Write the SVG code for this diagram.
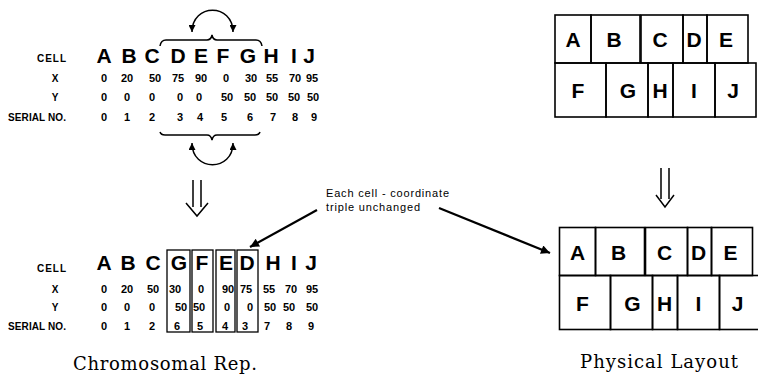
<svg xmlns="http://www.w3.org/2000/svg" width="758" height="378" viewBox="0 0 758 378">
<style>
.lbl{font-family:"Liberation Sans",Arial,sans-serif;font-weight:bold;font-size:10px;fill:#000}
.big{font-family:"Liberation Sans",Arial,sans-serif;font-weight:bold;font-size:21px;fill:#000;text-anchor:middle}
.num{font-family:"Liberation Sans",Arial,sans-serif;font-weight:bold;font-size:11px;fill:#000;text-anchor:middle}
.cap{font-family:"DejaVu Serif","Liberation Serif",serif;font-size:18px;fill:#000}
.note{font-family:"Liberation Sans",Arial,sans-serif;font-size:11px;fill:#000}
.cell{fill:none;stroke:#000;stroke-width:1.6}
.box{fill:none;stroke:#000;stroke-width:1.3}
.ln{fill:none;stroke:#000;stroke-width:1.5}
.arr{fill:none;stroke:#000;stroke-width:2.2}
.cl{font-family:"Liberation Sans",Arial,sans-serif;font-weight:bold;font-size:21px;fill:#000;text-anchor:middle}
</style>
<defs>
<marker id="ah" viewBox="0 0 10 10" refX="10" refY="5" markerWidth="7" markerHeight="7" markerUnits="userSpaceOnUse" orient="auto-start-reverse">
<path d="M0,0 L10,5 L0,10 z" fill="#000"/>
</marker>
<marker id="ah2" viewBox="0 0 10 10" refX="10" refY="5" markerWidth="11" markerHeight="9" markerUnits="userSpaceOnUse" orient="auto">
<path d="M0,0 L10,5 L0,10 z" fill="#000"/>
</marker>
</defs>

<g id="top-table">
<text class="lbl" x="37" y="62" textLength="29">CELL</text>
<text class="lbl" x="55" y="82" text-anchor="middle">X</text>
<text class="lbl" x="55" y="101" text-anchor="middle">Y</text>
<text class="lbl" x="8" y="121" textLength="58">SERIAL NO.</text>
<g class="big">
<text x="104" y="63">A</text><text x="129" y="63">B</text><text x="152" y="63">C</text><text x="178" y="63">D</text><text x="201" y="63">E</text><text x="223" y="63">F</text><text x="248" y="63">G</text><text x="271" y="63">H</text><text x="294" y="63">I</text><text x="309" y="63">J</text>
</g>
<g class="num">
<text x="104" y="82">0</text><text x="127" y="82">20</text><text x="155" y="82">50</text><text x="178" y="82">75</text><text x="201" y="82">90</text><text x="226" y="82">0</text><text x="251" y="82">30</text><text x="272" y="82">55</text><text x="295" y="82">70</text><text x="312" y="82">95</text>
<text x="104" y="101">0</text><text x="127" y="101">0</text><text x="152" y="101">0</text><text x="180" y="101">0</text><text x="199" y="101">0</text><text x="227" y="101">50</text><text x="250" y="101">50</text><text x="272" y="101">50</text><text x="294" y="101">50</text><text x="313" y="101">50</text>
<text x="104" y="121">0</text><text x="127" y="121">1</text><text x="152" y="121">2</text><text x="180" y="121">3</text><text x="200" y="121">4</text><text x="224" y="121">5</text><text x="250" y="121">6</text><text x="273" y="121">7</text><text x="295" y="121">8</text><text x="314" y="121">9</text>
</g>
<path class="ln" d="M160,46 Q161,40 166,40 H207 Q211,40 212,35 Q213,40 217,40 H256 Q261,40 262,46"/>
<path class="ln" d="M160,132 Q161,135 165,135 H207 Q211,135 212,140 Q213,135 217,135 H255 Q259,135 260,132"/>
</g>

<g id="bottom-table">
<text class="lbl" x="37" y="272" textLength="29">CELL</text>
<text class="lbl" x="55" y="293" text-anchor="middle">X</text>
<text class="lbl" x="55" y="311" text-anchor="middle">Y</text>
<text class="lbl" x="8" y="330" textLength="58">SERIAL NO.</text>
<g class="big">
<text x="104" y="270">A</text><text x="128" y="270">B</text><text x="153" y="270">C</text><text x="179" y="270">G</text><text x="202" y="270">F</text><text x="226" y="270">E</text><text x="247" y="270">D</text><text x="273" y="270">H</text><text x="294" y="270">I</text><text x="311" y="270">J</text>
</g>
<g class="num">
<text x="104" y="293">0</text><text x="127" y="293">20</text><text x="153" y="293">50</text><text x="175" y="293">30</text><text x="201" y="293">0</text><text x="228" y="293">90</text><text x="246" y="293">75</text><text x="269" y="293">55</text><text x="291" y="293">70</text><text x="312" y="293">95</text>
<text x="104" y="311">0</text><text x="127" y="311">0</text><text x="152" y="311">0</text><text x="181" y="311">50</text><text x="199" y="311">50</text><text x="227" y="311">0</text><text x="250" y="311">0</text><text x="270" y="311">50</text><text x="289" y="311">50</text><text x="312" y="311">50</text>
<text x="104" y="330">0</text><text x="127" y="330">1</text><text x="152" y="330">2</text><text x="177" y="330">6</text><text x="200" y="330">5</text><text x="225" y="330">4</text><text x="245" y="330">3</text><text x="267" y="330">7</text><text x="289" y="330">8</text><text x="311" y="330">9</text>
</g>
<rect class="box" x="167" y="250" width="23" height="82"/>
<rect class="box" x="192" y="250" width="21" height="82"/>
<rect class="box" x="216" y="250" width="19" height="82"/>
<rect class="box" x="237" y="250" width="21" height="82"/>
</g>

<g id="layout-top">
<rect class="cell" x="555" y="15" width="36" height="48"/>
<rect class="cell" x="591" y="15" width="49" height="48"/>
<rect class="cell" x="641" y="15" width="42" height="48"/>
<rect class="cell" x="683" y="15" width="24" height="48"/>
<rect class="cell" x="707" y="15" width="41" height="48"/>
<rect class="cell" x="555" y="63" width="51" height="54"/>
<rect class="cell" x="606" y="63" width="42" height="54"/>
<rect class="cell" x="648" y="63" width="25" height="54"/>
<rect class="cell" x="673" y="63" width="42" height="54"/>
<rect class="cell" x="715" y="63" width="41" height="54"/>
<text class="cl" x="573" y="47">A</text><text class="cl" x="614" y="47">B</text><text class="cl" x="660" y="47">C</text><text class="cl" x="694" y="47">D</text><text class="cl" x="726" y="47">E</text>
<text class="cl" x="578" y="98">F</text><text class="cl" x="628" y="98">G</text><text class="cl" x="660" y="98">H</text><text class="cl" x="694" y="98">I</text><text class="cl" x="733" y="98">J</text>
</g>

<g id="layout-bottom" transform="translate(4.5,212.5)">
<rect class="cell" x="555" y="15" width="36" height="48"/>
<rect class="cell" x="591" y="15" width="49" height="48"/>
<rect class="cell" x="641" y="15" width="42" height="48"/>
<rect class="cell" x="683" y="15" width="24" height="48"/>
<rect class="cell" x="707" y="15" width="41" height="48"/>
<rect class="cell" x="555" y="63" width="51" height="54"/>
<rect class="cell" x="606" y="63" width="42" height="54"/>
<rect class="cell" x="648" y="63" width="25" height="54"/>
<rect class="cell" x="673" y="63" width="42" height="54"/>
<rect class="cell" x="715" y="63" width="41" height="54"/>
<text class="cl" x="573" y="47">A</text><text class="cl" x="614" y="47">B</text><text class="cl" x="660" y="47">C</text><text class="cl" x="694" y="47">D</text><text class="cl" x="726" y="47">E</text>
<text class="cl" x="578" y="98">F</text><text class="cl" x="628" y="98">G</text><text class="cl" x="660" y="98">H</text><text class="cl" x="694" y="98">I</text><text class="cl" x="733" y="98">J</text>
</g>

<g id="annotation">
<text class="note" x="326" y="197" textLength="123">Each cell - coordinate</text>
<text class="note" x="326" y="211" textLength="94">triple unchanged</text>
</g>

<g id="captions">
<text class="cap" x="73" y="370" textLength="184">Chromosomal Rep.</text>
<text class="cap" x="580" y="368" textLength="158">Physical Layout</text>
</g>

<g id="connectors">
<path class="ln" d="M192,32 C192,3 233,3 233,32" marker-start="url(#ah)" marker-end="url(#ah)"/>
<path class="ln" d="M192,143 C192,172 233,172 233,143" marker-start="url(#ah)" marker-end="url(#ah)"/>
<path class="ln" d="M193,180 V207 M201,180 V207 M186,203 L197,216 L208,203"/>
<path class="ln" d="M661,168 V199 M669,168 V199 M656,195 L665,207 L674,195"/>
<path class="arr" d="M317,210 L250,247" marker-end="url(#ah2)"/>
<path class="arr" d="M439,208 L550,253" marker-end="url(#ah2)"/>
</g>
</svg>
